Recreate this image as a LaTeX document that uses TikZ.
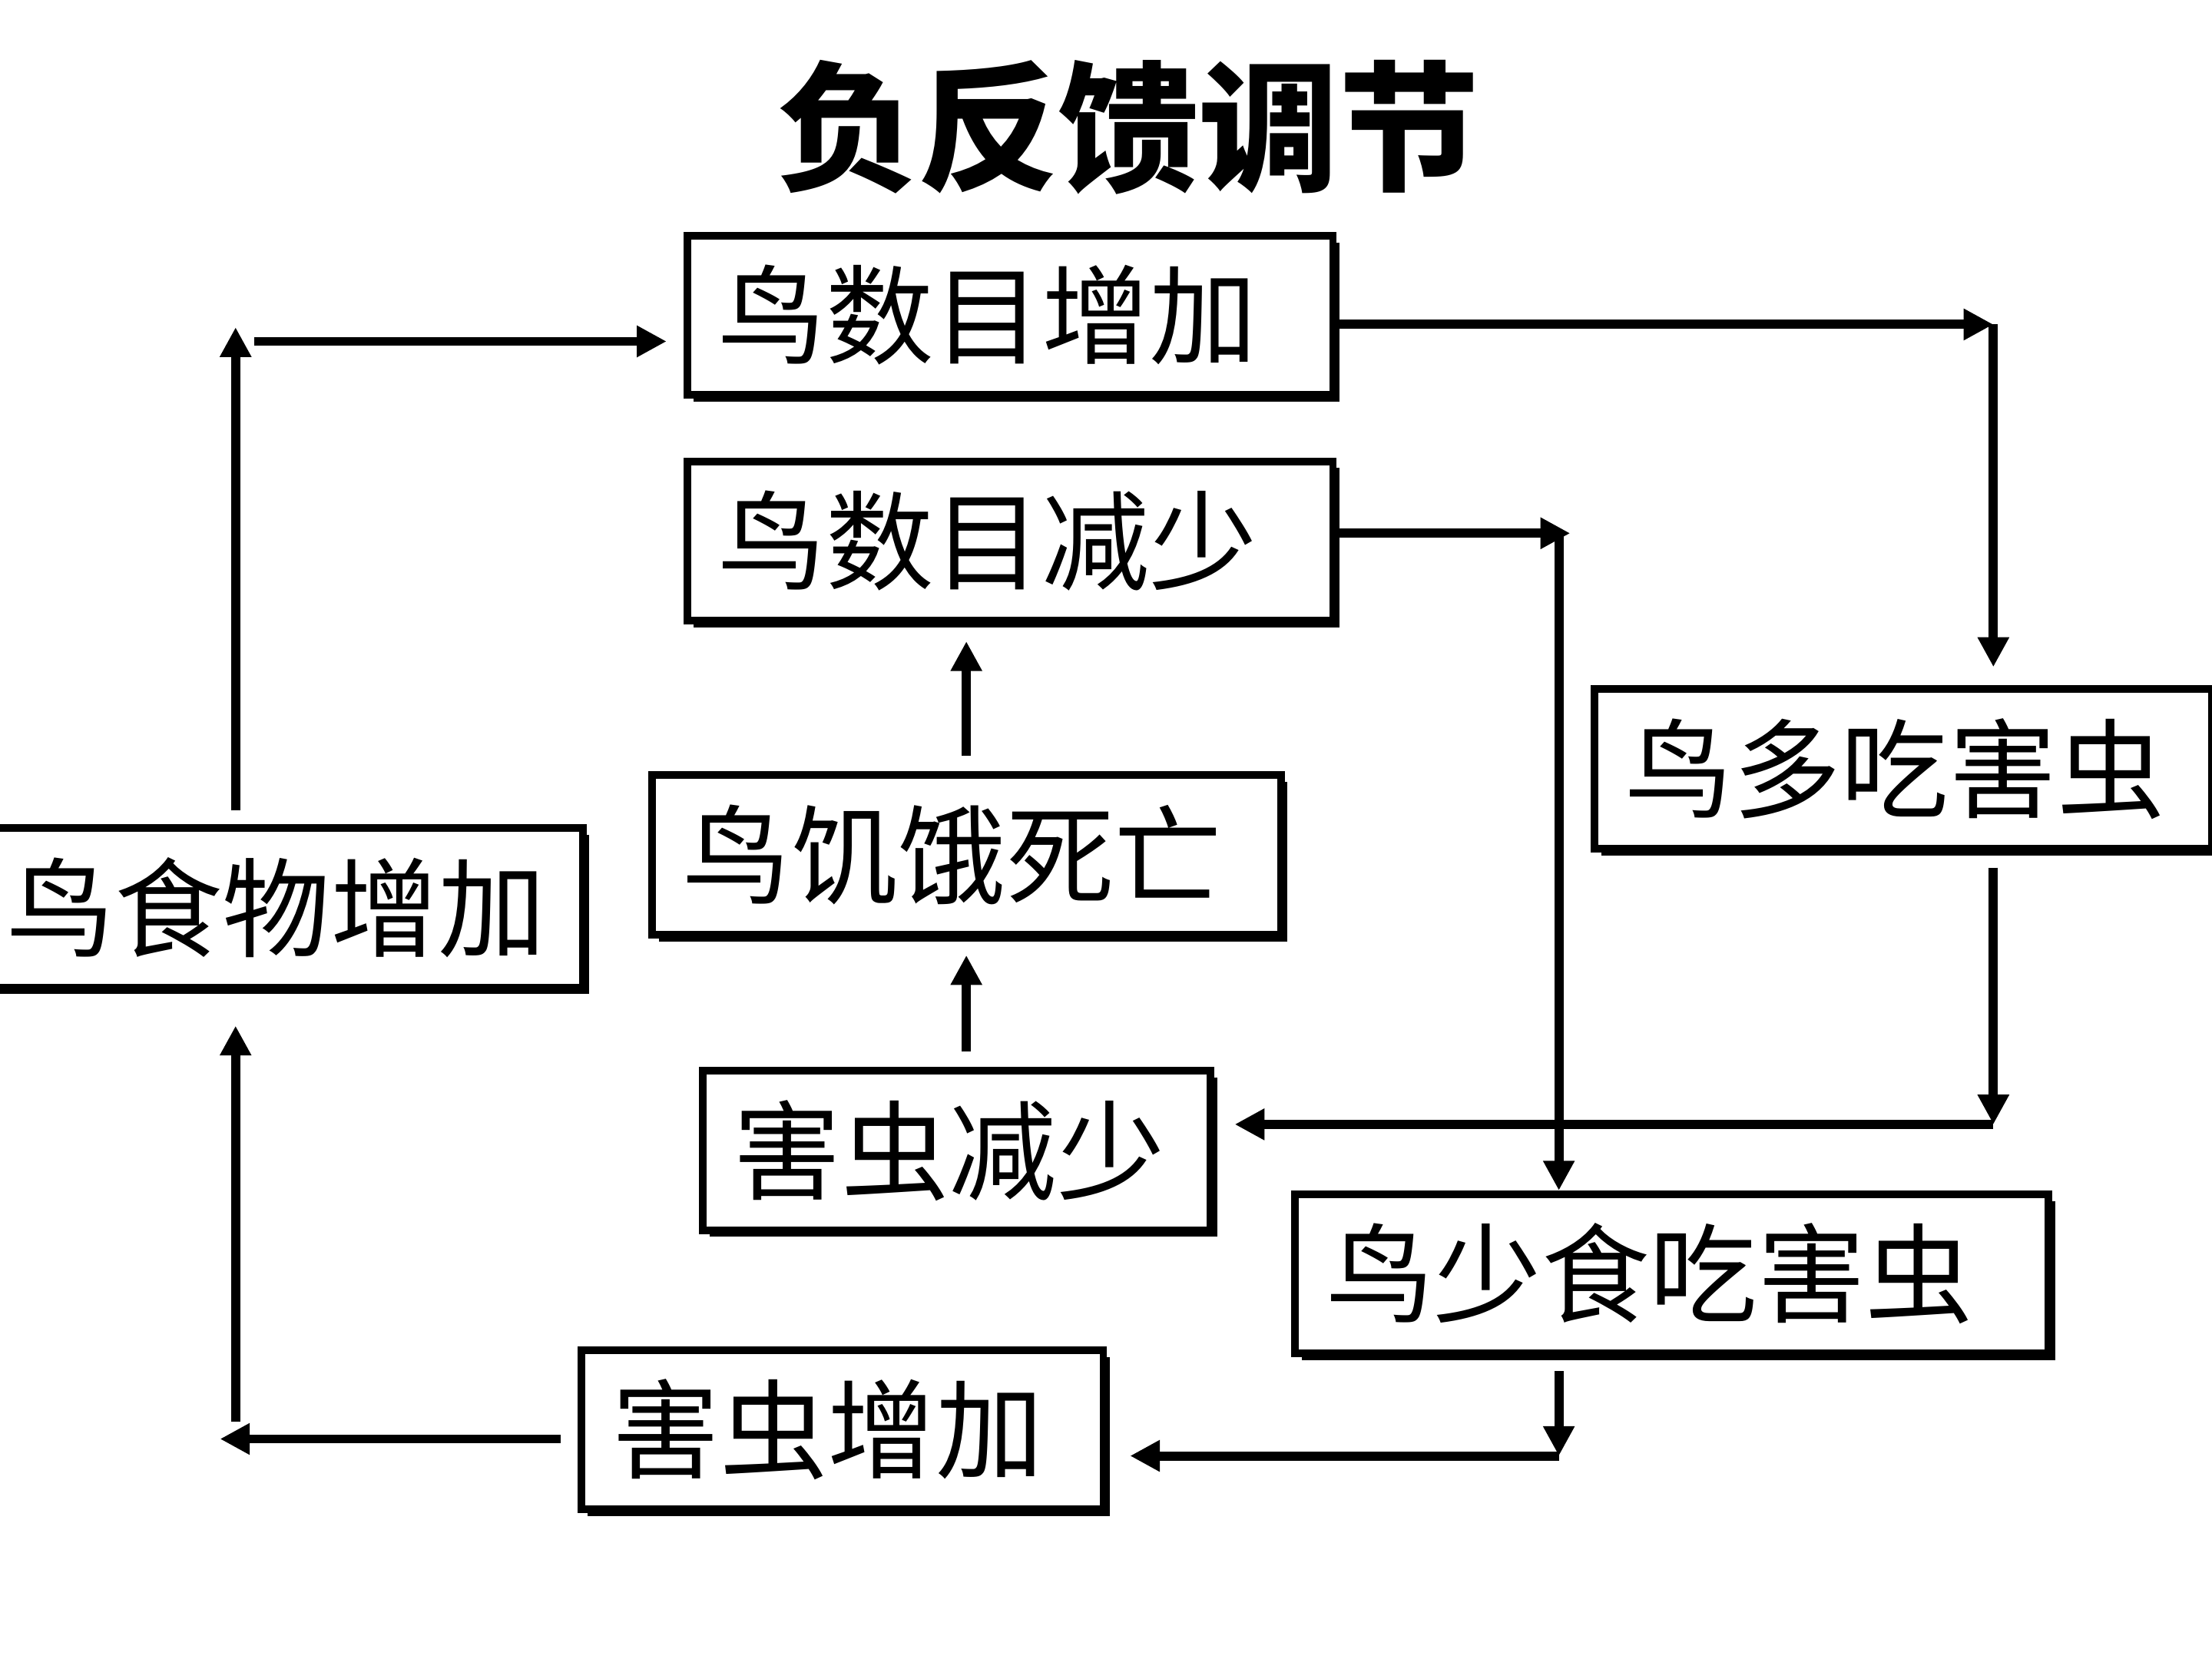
\documentclass[tikz,border=0pt]{standalone}
\usepackage{fontspec}
\setmainfont{Noto Sans CJK SC}
\usetikzlibrary{arrows.meta,shadows}

\tikzset{
	box/.style={draw, line width=2.8pt, fill=white, align=left, inner xsep=0.4cm, inner ysep=0pt,
		minimum height=2.075cm, font=\fontsize{40}{48}\selectfont,
		drop shadow={shadow xshift=2.5pt, shadow yshift=-2.5pt, fill=black, opacity=1}},
	flow/.style={line width=3.4pt, -{Triangle[length=11pt,width=11pt]}}
}

\begin{document}
\begin{tikzpicture}[x=0.018367cm, y=-0.018367cm]
	\useasboundingbox (0,0) rectangle (1568,1176);

	\node (title) at (800,90) {\fontsize{52}{60}\selectfont\bfseries 负反馈调节};

	\node[box, text width=7.61cm] (A) at (716,223.5) {鸟数目增加};
	\node[box, text width=7.61cm] (B) at (716,383.5) {鸟数目减少};
	\node[box, text width=7.24cm] (C) at (1349,545) {鸟多吃害虫};
	\node[box, text width=7.39cm] (D) at (685,606) {鸟饥饿死亡};
	\node[box, text width=7.10cm] (E) at (198,643.5) {鸟食物增加};
	\node[box, text width=5.81cm] (F) at (678,815.5) {害虫减少};
	\node[box, text width=9.01cm] (G) at (1185,903) {鸟少食吃害虫};
	\node[box, text width=6.00cm] (H) at (597,1013.5) {害虫增加};

	\coordinate (k1) at (167,232);
	\coordinate (k1b) at (180,242);
	\coordinate (k2) at (1413,230);
	\coordinate (k3) at (1113,378);
	\coordinate (k4) at (1105,378);
	\coordinate (k5) at (1413,797);
	\coordinate (k6) at (1105,1032);
	\coordinate (k7) at (156,1020);
	\coordinate (k8) at (167,1008);

	\draw[flow, shorten <=0.18cm] (k1 |- E.north) -- (k1);
	\draw[flow, shorten >=0.22cm] (k1b) -- (k1b -| A.west);

	\draw[flow] (A.east |- k2) -- (k2);
	\draw[flow, shorten >=0.24cm] (k2) -- (k2 |- C.north);

	\draw[flow] (B.east |- k3) -- (k3);
	\draw[flow] (k4) -- (k4 |- G.north);

	\draw[flow, shorten <=0.2cm] (C.south -| k5) -- (k5);
	\draw[flow, shorten >=0.27cm] (k5) -- (k5 -| F.east);

	\draw[flow, shorten <=0.2cm, shorten >=0.22cm] (D.south |- F.north) -- (D.south);
	\draw[flow, shorten <=0.2cm, shorten >=0.22cm] (D.north) -- (D.north |- B.south);

	\draw[flow, shorten <=0.18cm] (G.south -| k6) -- (k6);
	\draw[flow, shorten >=0.3cm] (k6) -- (k6 -| H.east);

	\draw[flow, shorten <=0.22cm] (H.west |- k7) -- (k7);
	\draw[flow, shorten >=0.45cm] (k8) -- (k8 |- E.south);

\end{tikzpicture}
\end{document}
